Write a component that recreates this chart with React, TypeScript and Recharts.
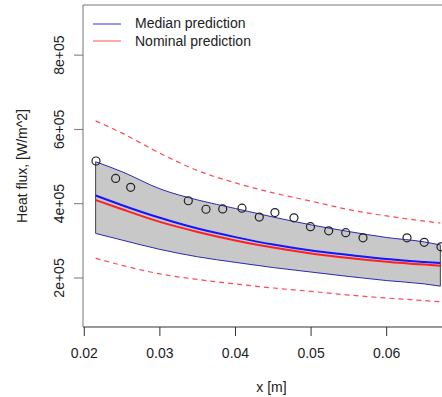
import {
    ComposedChart,
    Area,
    Line,
    Scatter,
    XAxis,
    YAxis,
    ReferenceLine,
    Legend,
} from 'recharts';

// x positions along the plate [m]
const xGrid = [0.0215, 0.025, 0.03, 0.035, 0.04, 0.045, 0.05, 0.055, 0.06, 0.065, 0.0671];

// gray credible band
const bandUpper = [513000, 486000, 440000, 410000, 387000, 364000, 343000, 325000, 309000, 297000, 289000];
const bandLower = [320000, 302000, 277000, 257000, 242000, 228000, 216000, 204000, 193000, 184000, 178000];

// predictions
const medianPred = [422000, 396000, 362000, 333000, 310000, 290000, 274000, 262000, 251000, 243000, 240000];
const nominalPred = [410000, 385000, 351000, 324000, 301000, 282000, 266000, 254000, 244000, 236000, 233000];

// dashed prediction bounds
const dashUpper = [623000, 590000, 536000, 489000, 456000, 429000, 407000, 384000, 367000, 353000, 348000];
const dashLower = [253000, 234000, 211000, 196000, 184000, 173000, 164000, 154000, 146000, 139000, 136000];

// measurements
const obsX = [0.02155, 0.02415, 0.02614, 0.03376, 0.0361, 0.03831, 0.04086, 0.04315, 0.04522, 0.04774, 0.04992, 0.05233, 0.05458, 0.05687, 0.06269, 0.06497, 0.06718];
const obsY = [515000, 468000, 444000, 408000, 385000, 386000, 388000, 364000, 376000, 362000, 338000, 327000, 322000, 308000, 308000, 296000, 284000];

const xTicks = [0.02, 0.03, 0.04, 0.05, 0.06];
const yTicks = [200000, 400000, 600000, 800000];

const legendItems = [
    { label: 'Median prediction', color: '#3333dd' },
    { label: 'Nominal prediction', color: '#ff5555' },
];

const X_MIN = 0.01983;
const X_MAX = 0.0697;
const Y_MIN = 68000;
const Y_MAX = 935000;

const curveData = xGrid.map((x, i) => ({
    x,
    band: [bandLower[i], bandUpper[i]],
    hi: bandUpper[i],
    lo: bandLower[i],
    median: medianPred[i],
    nominal: nominalPred[i],
    dHi: dashUpper[i],
    dLo: dashLower[i],
}));

const obsData = obsX.map((x, i) => ({ x, y: obsY[i] }));

const last = xGrid.length - 1;

function YTick(props: any) {
    const { x, y, payload } = props;
    return (
        <g transform={`translate(${x},${y}) rotate(-90)`}>
            <text x={0} y={0} dy={-7} textAnchor="middle" fill="#222" fontSize={14}>
                {`${payload.value / 100000}e+05`}
            </text>
        </g>
    );
}

function Circle(props: any) {
    return <circle cx={props.cx} cy={props.cy} r={4} fill="none" stroke="#222" strokeWidth={1.2} />;
}

function LegendBox() {
    return (
        <div style={{ fontSize: 14, color: '#222' }}>
            {legendItems.map((it) => (
                <div key={it.label} style={{ display: 'flex', alignItems: 'center', height: 17.5, lineHeight: '17.5px' }}>
                    <svg width={28} height={4} style={{ marginRight: 14 }}>
                        <line x1={0} y1={2} x2={28} y2={2} stroke={it.color} strokeWidth={1} />
                    </svg>
                    <span>{it.label}</span>
                </div>
            ))}
        </div>
    );
}

export default function App() {
    return (
        <div
            style={{
                position: 'fixed',
                left: 0,
                top: 0,
                width: 442,
                height: 397,
                overflow: 'hidden',
                background: '#fff',
                fontFamily: '"Liberation Sans", Arial, sans-serif',
            }}
        >
            <ComposedChart width={470} height={397} data={curveData} margin={{ top: 5, right: 10, bottom: 0, left: 0 }}>
                <XAxis
                    dataKey="x"
                    type="number"
                    domain={[X_MIN, X_MAX]}
                    allowDataOverflow
                    ticks={xTicks}
                    tickFormatter={(v: number) => v.toFixed(2)}
                    height={70}
                    tickSize={9}
                    tickMargin={12}
                    stroke="#333"
                    tick={{ fill: '#222', fontSize: 14 }}
                    label={{ value: 'x [m]', position: 'insideBottom', offset: 5, fill: '#222', fontSize: 14 }}
                />
                <YAxis
                    type="number"
                    domain={[Y_MIN, Y_MAX]}
                    allowDataOverflow
                    ticks={yTicks}
                    width={83}
                    tickSize={9}
                    tickMargin={3}
                    stroke="#777"
                    tick={<YTick />}
                    label={{
                        value: 'Heat flux, [W/m^2]',
                        angle: -90,
                        position: 'insideLeft',
                        offset: 22,
                        fill: '#222',
                        fontSize: 14,
                        style: { textAnchor: 'middle' },
                    }}
                />
                <ReferenceLine y={Y_MAX} stroke="#777" ifOverflow="visible" />
                <Area
                    type="monotone"
                    dataKey="band"
                    stroke="none"
                    fill="#c8c8c8"
                    fillOpacity={1}
                    isAnimationActive={false}
                />
                <Line type="monotone" dataKey="hi" stroke="#2a2ab0" strokeWidth={1} dot={false} isAnimationActive={false} />
                <Line type="monotone" dataKey="lo" stroke="#2a2ab0" strokeWidth={1} dot={false} isAnimationActive={false} />
                <ReferenceLine
                    segment={[{ x: xGrid[0], y: bandLower[0] }, { x: xGrid[0], y: bandUpper[0] }]}
                    stroke="#444"
                />
                <ReferenceLine
                    segment={[{ x: xGrid[last], y: bandLower[last] }, { x: xGrid[last], y: bandUpper[last] }]}
                    stroke="#444"
                />
                <Line type="monotone" dataKey="median" stroke="#1515ff" strokeWidth={2} dot={false} isAnimationActive={false} />
                <Line type="monotone" dataKey="nominal" stroke="#ff2020" strokeWidth={2} dot={false} isAnimationActive={false} />
                <Line type="monotone" dataKey="dHi" stroke="#ff4a55" strokeWidth={1.2} strokeDasharray="5 4" dot={false} isAnimationActive={false} />
                <Line type="monotone" dataKey="dLo" stroke="#ff4a55" strokeWidth={1.2} strokeDasharray="5 4" dot={false} isAnimationActive={false} />
                <Scatter data={obsData} dataKey="y" shape={<Circle />} isAnimationActive={false} />
                <Legend
                    layout="horizontal"
                    verticalAlign="middle"
                    align="center"
                    content={<LegendBox />}
                    wrapperStyle={{ left: 93, top: 15, width: 220 }}
                />
            </ComposedChart>
        </div>
    );
}
